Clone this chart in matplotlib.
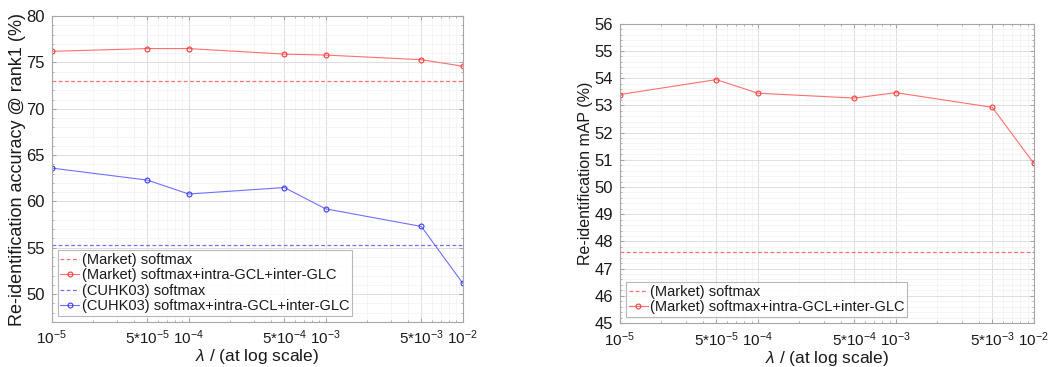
import matplotlib
matplotlib.use("Agg")
import matplotlib.pyplot as plt
import numpy as np
from matplotlib.ticker import FixedLocator, MultipleLocator, LogLocator, NullFormatter

plt.rcParams['font.family'] = ['Liberation Sans', 'DejaVu Sans']

lambdas = [1e-5, 5e-5, 1e-4, 5e-4, 1e-3, 5e-3, 1e-2]
xtick_labels = [r'$10^{-5}$', r'$5{*}10^{-5}$', r'$10^{-4}$', r'$5{*}10^{-4}$',
                r'$10^{-3}$', r'$5{*}10^{-3}$', r'$10^{-2}$']
market_rank1 = [76.2, 76.5, 76.5, 75.9, 75.8, 75.3, 74.6]
market_softmax_rank1 = 73.0
cuhk_rank1 = [63.6, 62.3, 60.8, 61.5, 59.2, 57.3, 51.2]
cuhk_softmax_rank1 = 55.3
market_map = [53.4, 53.95, 53.45, 53.27, 53.47, 52.93, 50.87]
market_softmax_map = 47.6

plt.rcParams['mathtext.fontset'] = 'custom'
plt.rcParams['mathtext.rm'] = 'Liberation Sans'
plt.rcParams['mathtext.it'] = 'Liberation Sans:italic'

RED = '#ff7070'
RED_M = '#ff3a3a'
BLUE = '#7070ff'
BLUE_M = '#3a3aff'
TXT = '#1a1a1a'
DASH = (0, (3, 2))

fig = plt.figure(figsize=(10.56, 3.67), dpi=100)
ax1 = fig.add_axes([0.049, 0.123, 0.389, 0.833])
ax2 = fig.add_axes([0.587, 0.120, 0.392, 0.815])

def style(ax):
    ax.set_xscale('log')
    ax.set_xlim(1e-5, 1e-2)
    ax.xaxis.set_major_locator(FixedLocator(lambdas))
    ax.set_xticklabels(xtick_labels)
    ax.xaxis.set_minor_locator(LogLocator(base=10, subs=np.arange(2, 10)))
    ax.xaxis.set_minor_formatter(NullFormatter())
    ax.grid(True, which='major', color='#dedede', lw=0.7)
    ax.grid(True, which='minor', color='#f1f1f1', lw=0.5)
    ax.set_axisbelow(True)
    for s in ax.spines.values():
        s.set_color('#a6a6a6')
        s.set_linewidth(0.8)
    ax.tick_params(which='both', direction='in', colors='#a6a6a6', labelcolor=TXT,
                   top=True, right=True, length=3)
    ax.tick_params(axis='y', pad=5, labelsize=12)
    ax.tick_params(axis='x', pad=5, labelsize=11)
    ax.tick_params(which='minor', length=1.5)

def legend(ax):
    leg = ax.legend(loc='lower left', fontsize=10.5, frameon=True, fancybox=False,
                    edgecolor='#a6a6a6', borderpad=0.2, labelspacing=0.1,
                    handlelength=1.3, handletextpad=0.15, borderaxespad=0.4)
    leg.get_frame().set_linewidth(0.8)
    for t in leg.get_texts():
        t.set_color(TXT)

# Left
style(ax1)
ax1.set_ylim(47, 80)
ax1.yaxis.set_major_locator(MultipleLocator(5))
ax1.yaxis.set_minor_locator(MultipleLocator(1))
ax1.axhline(market_softmax_rank1, color=RED, ls=DASH, lw=0.9, label='(Market) softmax')
ax1.plot(lambdas, market_rank1, color=RED, lw=0.8, marker='o', ms=3.5, mfc='none',
         mec=RED_M, mew=0.8, label='(Market) softmax+intra-GCL+inter-GLC')
ax1.axhline(cuhk_softmax_rank1, color=BLUE, ls=DASH, lw=0.9, label='(CUHK03) softmax')
ax1.plot(lambdas, cuhk_rank1, color=BLUE, lw=0.8, marker='o', ms=3.5, mfc='none',
         mec=BLUE_M, mew=0.8, label='(CUHK03) softmax+intra-GCL+inter-GLC')
ax1.set_ylabel('Re-identification accuracy @ rank1 (%)', fontsize=13, color=TXT)
ax1.yaxis.set_label_coords(-0.063, 0.5)
ax1.set_xlabel(r'$\lambda$ / (at log scale)', fontsize=12.5, color=TXT, labelpad=0)
legend(ax1)

# Right
style(ax2)
ax2.set_ylim(45, 56)
ax2.yaxis.set_major_locator(MultipleLocator(1))
ax2.yaxis.set_minor_locator(MultipleLocator(0.2))
ax2.axhline(market_softmax_map, color=RED, ls=DASH, lw=0.9, label='(Market) softmax')
ax2.plot(lambdas, market_map, color=RED, lw=0.8, marker='o', ms=3.5, mfc='none',
         mec=RED_M, mew=0.8, label='(Market) softmax+intra-GCL+inter-GLC')
ax2.set_ylabel('Re-identification mAP (%)', fontsize=11.5, color=TXT)
ax2.yaxis.set_label_coords(-0.065, 0.5)
ax2.set_xlabel(r'$\lambda$ / (at log scale)', fontsize=12.5, color=TXT, labelpad=0)
legend(ax2)

fig.savefig('out.png', dpi=100)
